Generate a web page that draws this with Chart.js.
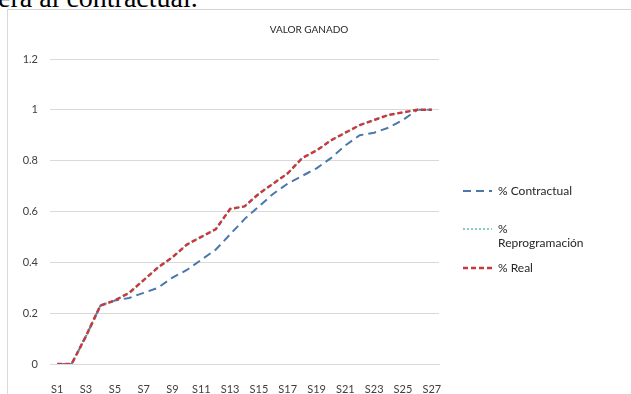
<!DOCTYPE html>
<html>
<head>
<meta charset="utf-8">
<script src="https://cdn.jsdelivr.net/npm/chart.js@4.4.0/dist/chart.umd.min.js"></script>
<style>
  html, body { margin: 0; padding: 0; background: #fff; overflow: hidden; width: 631px; height: 394px; }
  #lead { position: absolute; left: -2px; top: -16px; font-family: "Liberation Serif", serif; font-size: 28px; line-height: 28px; color: #000; white-space: nowrap; }
  #frame { position: absolute; left: 7px; top: 9px; width: 640px; height: 400px; border-left: 1px solid #d9d9d9; border-top: 1px solid #d4d4d4; background: #fff; }
  #frame canvas { position: absolute; left: 0; top: 0; }
</style>
</head>
<body>
<div id="lead">era al contractual.</div>
<div id="frame"><canvas id="c" width="624" height="385"></canvas></div>
<script>
// Weeks S1..S27
const categories = ['S1','S2','S3','S4','S5','S6','S7','S8','S9','S10','S11','S12','S13','S14',
  'S15','S16','S17','S18','S19','S20','S21','S22','S23','S24','S25','S26','S27'];

// Cumulative earned value (fraction of total)
const contractual = [0, 0, 0.11, 0.23, 0.25, 0.26, 0.28, 0.30, 0.34, 0.37, 0.41, 0.45, 0.51, 0.57,
  0.62, 0.67, 0.71, 0.74, 0.77, 0.81, 0.86, 0.90, 0.91, 0.93, 0.96, 1.0, 1.0];
const reprogramacion = [0, 0, 0.11, 0.23, 0.25, 0.28, 0.33, 0.38, 0.42, 0.47, 0.50, 0.53, 0.61, 0.62,
  0.67, 0.71, 0.75, 0.81, 0.84, 0.88, 0.91, 0.94, 0.96, 0.98, 0.99, 1.0, 1.0];
const real = [0, 0, 0.11, 0.23, 0.25, 0.28, 0.33, 0.38, 0.42, 0.47, 0.50, 0.53, 0.61, 0.62,
  0.67, 0.71, 0.75, 0.81, 0.84, 0.88, 0.91, 0.94, 0.96, 0.98, 0.99, 1.0, 1.0];

const chartTitle = 'VALOR GANADO';
const FONT = 'Lato, "Open Sans", sans-serif';

// Title drawn above the plot, centred over the plot + legend block
const titlePlugin = {
  id: 'plotTitle',
  afterDraw(chart) {
    const ctx = chart.ctx;
    ctx.save();
    ctx.font = '10px ' + FONT;
    ctx.fillStyle = '#262626';
    ctx.textAlign = 'center';
    ctx.textBaseline = 'middle';
    ctx.fillText(chartTitle, 301, 20);
    ctx.restore();
  }
};

// Legend on the right; the second label wraps onto two lines
const sideLegend = {
  id: 'sideLegend',
  afterDraw(chart) {
    const ctx = chart.ctx;
    const rows = [
      { ds: 0, lines: ['% Contractual'], y: 181 },
      { ds: 1, lines: ['%', 'Reprogramación'], y: 219 },
      { ds: 2, lines: ['% Real'], y: 258 }
    ];
    ctx.save();
    ctx.font = '12px ' + FONT;
    ctx.fillStyle = '#262626';
    ctx.textBaseline = 'middle';
    ctx.textAlign = 'left';
    rows.forEach(r => {
      const d = chart.data.datasets[r.ds];
      ctx.save();
      ctx.strokeStyle = d.borderColor;
      ctx.lineWidth = d.borderWidth;
      ctx.setLineDash(d.borderDash || []);
      ctx.beginPath();
      ctx.moveTo(455, r.y);
      ctx.lineTo(484, r.y);
      ctx.stroke();
      ctx.restore();
      r.lines.forEach((t, i) => ctx.fillText(t, 490, r.y + i * 14));
    });
    ctx.restore();
  }
};

function build() {
  new Chart(document.getElementById('c'), {
    type: 'line',
    data: {
      labels: categories,
      datasets: [
        { label: '% Contractual', data: contractual, borderColor: '#4a78ad', borderWidth: 2,
          borderDash: [8, 5], pointRadius: 0, tension: 0, fill: false, order: 2 },
        { label: '% Reprogramación', data: reprogramacion, borderColor: '#5dbfb0', borderWidth: 1.5,
          borderDash: [2, 2], pointRadius: 0, tension: 0, fill: false, order: 1 },
        { label: '% Real', data: real, borderColor: '#c8383c', borderWidth: 2.5,
          borderDash: [5, 3], pointRadius: 0, tension: 0, fill: false, order: 0 }
      ]
    },
    options: {
      responsive: false,
      animation: false,
      layout: { padding: { top: 49, right: 193, left: 0, bottom: 0 } },
      plugins: { legend: { display: false }, title: { display: false }, tooltip: { enabled: false } },
      scales: {
        x: {
          offset: true,
          grid: { display: false },
          border: { display: true, color: '#d9d9d9' },
          ticks: {
            autoSkip: false, maxRotation: 0, minRotation: 0, padding: 11,
            color: '#404040', font: { family: FONT, size: 11 },
            callback: (v, i) => (i % 2 === 0 ? categories[i] : '')
          },
          afterFit(s) { s.height = 31; }
        },
        y: {
          min: 0, max: 1.2,
          grid: { color: '#d9d9d9', drawTicks: false },
          border: { display: false },
          ticks: {
            stepSize: 0.2, padding: 12, color: '#404040', font: { family: FONT, size: 11 },
            callback: v => String(Number(v.toFixed(1)))
          },
          afterFit(s) { s.width = 42; }
        }
      }
    },
    plugins: [titlePlugin, sideLegend]
  });
}

if (document.fonts && document.fonts.load) {
  Promise.all([document.fonts.load('11px Lato'), document.fonts.load('28px "Liberation Serif"')])
    .then(build, build);
} else {
  build();
}
</script>
</body>
</html>
